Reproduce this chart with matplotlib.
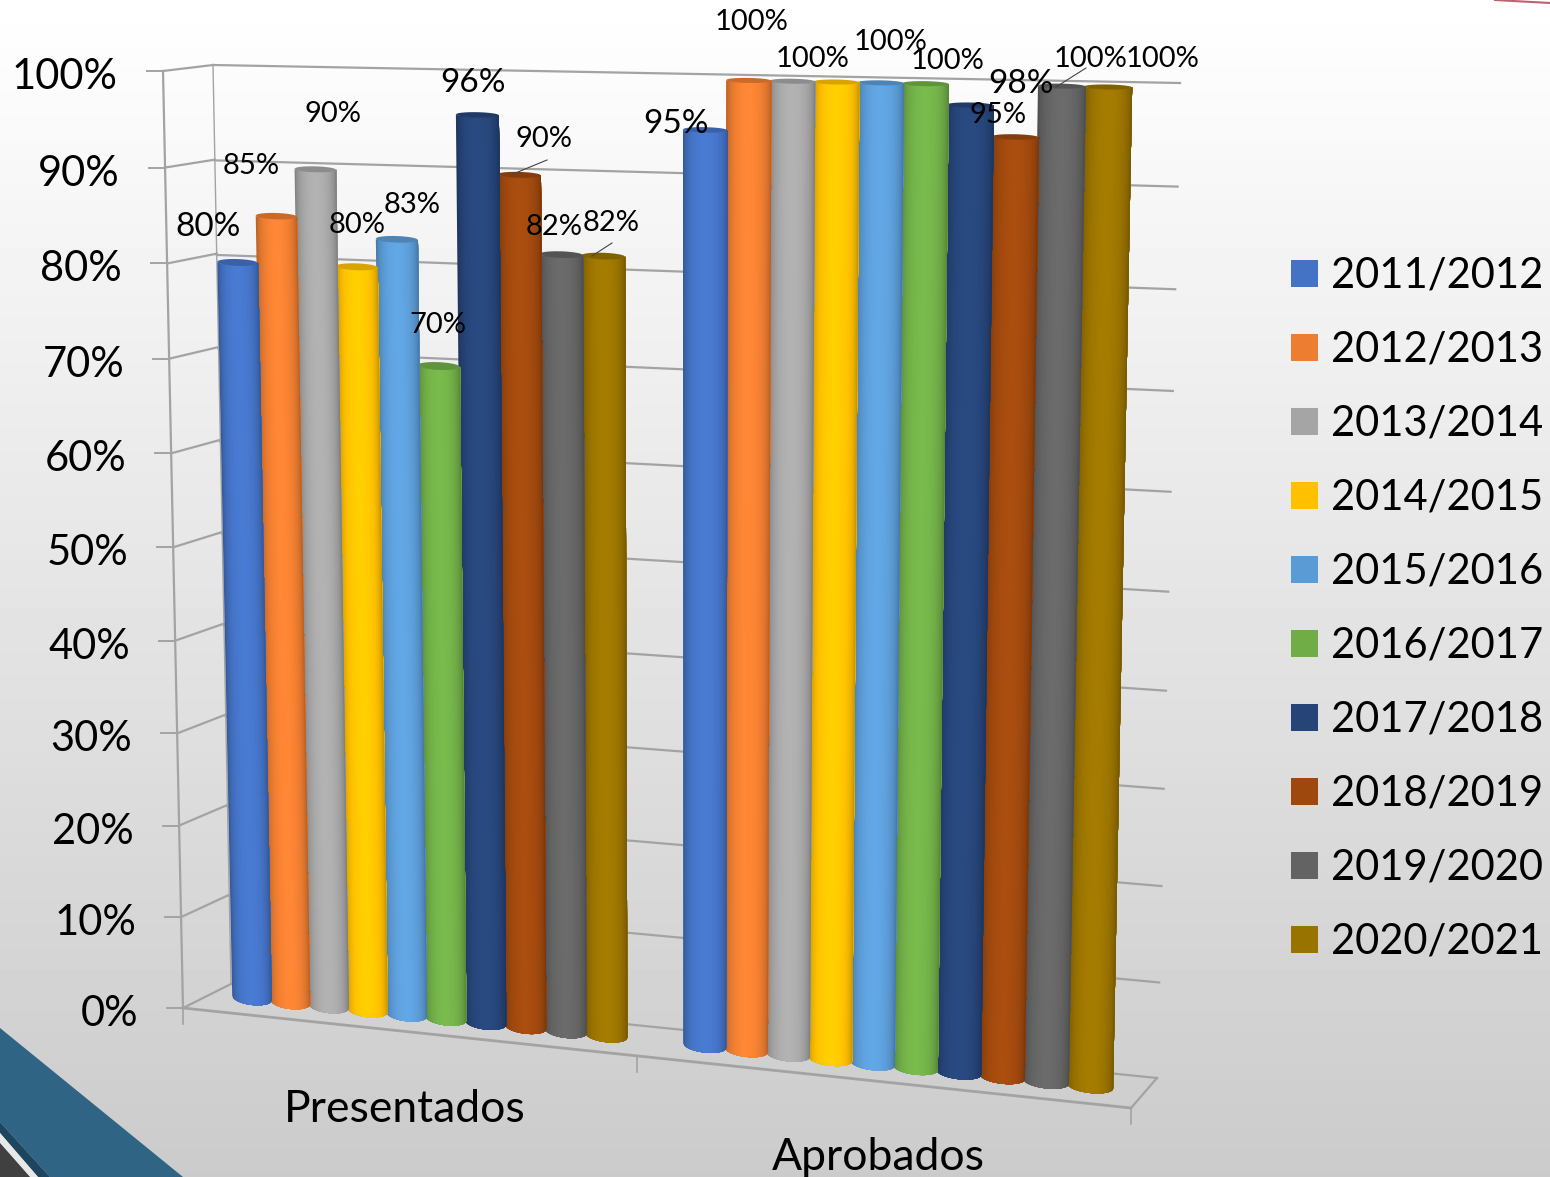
import numpy as np
import matplotlib
matplotlib.use('Agg')
import matplotlib.pyplot as plt
from matplotlib.patches import Polygon, Rectangle

plt.rcParams['font.family'] = ['Lato', 'DejaVu Sans']

courses = ['2011/2012', '2012/2013', '2013/2014', '2014/2015', '2015/2016',
           '2016/2017', '2017/2018', '2018/2019', '2019/2020', '2020/2021']
categories = ['Presentados', 'Aprobados']
presentados = [80, 85, 90, 80, 83, 70, 96, 90, 82, 82]
aprobados = [95, 100, 100, 100, 100, 100, 98, 95, 100, 100]
ticks = [0, 10, 20, 30, 40, 50, 60, 70, 80, 90, 100]

colors = ['#4472C4', '#ED7D31', '#A5A5A5', '#FFC000', '#5B9BD5',
          '#70AD47', '#264478', '#9E480E', '#636363', '#997300']

# label placement, moved by hand in the original chart (x, y, size)
label_pos = [
    [(208, 227, 24), (251, 166, 21), (333, 114, 21), (357, 225, 21), (412, 205, 21),
     (438, 325, 21), (473, 83, 24), (544, 139, 21), (554, 227, 21), (611, 223, 21)],
    [(676, 124, 24), (752, 22, 21), (813, 59, 21), (891, 42, 21), None,
     (948, 61, 21), (1021, 84, 24), (998, 115, 21), (1091, 59, 21), (1163, 59, 21)],
]
leaders = [((513, 174), (547, 160)), ((592, 256), (612, 243)), ((1056, 87), (1086, 68))]

GAP = 2.4
LINE = '#a3a3a3'


def homography(corners):
    # corners for (0,0), (1,0), (0,1), (1,1), as (x, y) in pixels
    src = [(0, 0), (1, 0), (0, 1), (1, 1)]
    A, b = [], []
    for (u, v), (x, y) in zip(src, corners):
        A.append([u, v, 1, 0, 0, 0, -u * x, -v * x])
        A.append([0, 0, 0, u, v, 1, -u * y, -v * y])
        b += [x, y]
    h = np.linalg.solve(np.array(A, float), np.array(b, float))
    h = np.append(h, 1).reshape(3, 3)

    def project(u, v):
        u, v = np.asarray(u, float), np.asarray(v, float)
        w = h[2, 0] * u + h[2, 1] * v + h[2, 2]
        return (h[0, 0] * u + h[0, 1] * v + h[0, 2]) / w, (h[1, 0] * u + h[1, 1] * v + h[1, 2]) / w
    return project


back_wall = homography([(231, 984), (1157, 1078), (213, 65), (1180, 83)])
left_wall = homography([(183, 1008), (231, 984), (163, 71), (213, 65)])
bar_plane = homography([(252, 998), (1090, 1086), (234, 71), (1108, 87)])

n = len(courses)
total_slots = 2 * (n - 1) + GAP


def draw_bar(ax, slot, value, color):
    u_l = (slot - 0.52) / total_slots
    u_r = (slot + 0.52) / total_slots
    v = value / 100
    t = np.linspace(-1, 1, 41)
    s = (t + 1) / 2
    bulge = np.sqrt(1 - t ** 2)
    xb0, yb0 = bar_plane(u_l, 0)
    xb1, yb1 = bar_plane(u_r, 0)
    xt0, yt0 = bar_plane(u_l, v)
    xt1, yt1 = bar_plane(u_r, v)
    xb = xb0 + (xb1 - xb0) * s
    xt = xt0 + (xt1 - xt0) * s
    yb = yb0 + (yb1 - yb0) * s + 7 * bulge
    e_top = 7 - 4.5 * v
    yt = yt0 + (yt1 - yt0) * s + e_top * bulge
    tm = (t[:-1] + t[1:]) / 2
    shade = 0.70 + 0.38 * np.sqrt(1 - tm ** 2)
    rgb = np.array(matplotlib.colors.to_rgb(color))
    # each strip runs to the right edge and the next one paints over it, so no seams show
    for j in range(len(tm)):
        outline = np.column_stack([np.r_[xt[j:], xb[j:][::-1]], np.r_[yt[j:], yb[j:][::-1]]])
        ax.add_patch(Polygon(outline, closed=True, fc=np.clip(rgb * shade[j], 0, 1), ec='none', zorder=3))
    yc = yt0 + (yt1 - yt0) * s
    cap = np.column_stack([np.r_[xt, xt[::-1]],
                           np.r_[yc + e_top * bulge, (yc - e_top * bulge)[::-1]]])
    ax.add_patch(Polygon(cap, closed=True, fc=rgb * 0.85, ec='none', zorder=3))


fig = plt.figure(figsize=(15.5, 11.77), dpi=100)
ax = fig.add_axes([0, 0, 1, 1])

# slide background
grad = np.linspace(255, 203, 256).reshape(-1, 1) / 255
ax.imshow(grad, cmap='gray', vmin=0, vmax=1, extent=[0, 1550, 1177, 0], aspect='auto', zorder=0)

# slide decoration
ax.add_patch(Polygon([(0, 1028), (183, 1177), (50, 1177), (0, 1122)], fc='#2f6484', ec='none', zorder=1))
ax.add_patch(Polygon([(0, 1122), (50, 1177), (38, 1177), (0, 1133)], fc='#1d4560', ec='none', zorder=1))
ax.add_patch(Polygon([(0, 1133), (38, 1177), (30, 1177), (0, 1143)], fc='#e8e8e8', ec='none', zorder=1))
ax.add_patch(Polygon([(0, 1143), (30, 1177), (0, 1177)], fc='#404040', ec='none', zorder=1))
ax.add_patch(Rectangle((1438, 0), 112, 21, fc='white', ec='none', zorder=1))
ax.plot([1495, 1550], [0, 3], color='#c06070', lw=1.5, zorder=1)

# walls
for tick in ticks:
    v = tick / 100
    x, y = back_wall([0, 1], [v, v])
    ax.plot(x, y, color=LINE, lw=1.6, zorder=2)
    x, y = left_wall([0, 1], [v, v])
    ax.plot(x, y, color=LINE, lw=1.6, zorder=2)
    ax.plot([x[0] - 16, x[0]], [y[0], y[0]], color=LINE, lw=1.4, zorder=2)
    ax.text(x[0] - 45, y[0] + 6, '{}%'.format(tick), ha='right', va='center',
            fontsize=30, color='black', zorder=5)

x, y = left_wall([0, 0], [0, 1])
ax.plot(x, y, color=LINE, lw=1.6, zorder=2)
ax.plot(*back_wall([0, 0], [0, 1]), color=LINE, lw=1.0, zorder=2)

# floor
front_l, front_r = (183, 1008), (1131, 1108)
ax.plot([front_l[0], front_r[0]], [front_l[1], front_r[1]], color=LINE, lw=2, zorder=2)
ax.plot([front_r[0], 1157], [front_r[1], 1078], color=LINE, lw=1.6, zorder=2)
for tx, ty in [front_l, (637, 1056), front_r]:
    ax.plot([tx, tx], [ty, ty + 16], color=LINE, lw=1.2, zorder=2)

# bars, right to left so the left ones stay in front
series = [presentados, aprobados]
slots = [np.arange(n), np.arange(n) + (n - 1) + GAP]
for g in [1, 0]:
    for i in range(n - 1, -1, -1):
        draw_bar(ax, slots[g][i], series[g][i], colors[i])

for g, values in enumerate(series):
    for i, val in enumerate(values):
        if label_pos[g][i] is None:
            continue
        lx, ly, size = label_pos[g][i]
        ax.text(lx, ly, '{}%'.format(val), ha='center', va='center',
                fontsize=size, color='black', zorder=6)
for p0, p1 in leaders:
    ax.plot([p0[0], p1[0]], [p0[1], p1[1]], color='#444444', lw=0.8, zorder=5)

ax.text(405, 1109, categories[0], ha='center', va='center', fontsize=32, color='black', zorder=5)
ax.text(878, 1157, categories[1], ha='center', va='center', fontsize=32, color='black', zorder=5)

# legend
for i, course in enumerate(courses):
    ly = 273 + i * 74
    ax.add_patch(Rectangle((1291, ly - 13.5), 27, 27, fc=colors[i], ec='none', zorder=5))
    ax.text(1331, ly + 2, course, ha='left', va='center', fontsize=30, color='black', zorder=5)

ax.set_xlim(0, 1550)
ax.set_ylim(1177, 0)
ax.axis('off')

fig.savefig('out.png', dpi=100)
